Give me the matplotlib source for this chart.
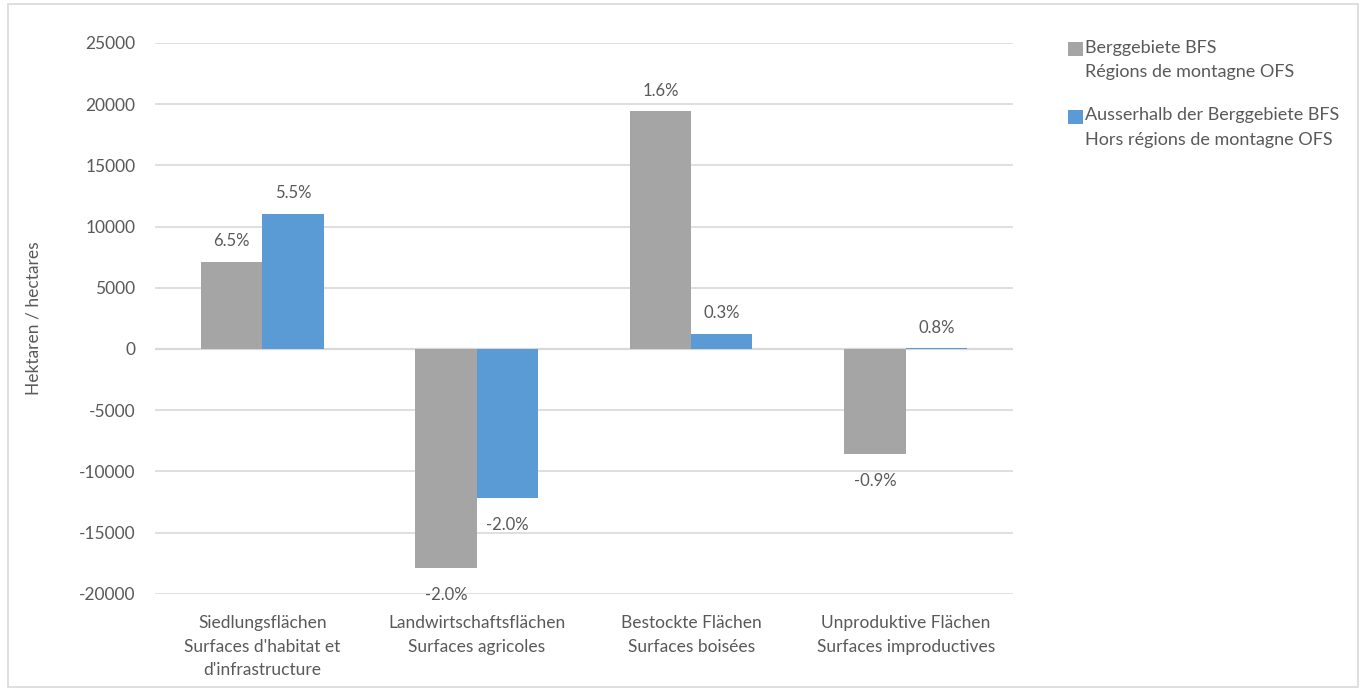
import numpy as np
import matplotlib
matplotlib.use('Agg')
import matplotlib.pyplot as plt
from matplotlib.patches import Rectangle
from matplotlib.legend_handler import HandlerPatch

# Data
categories = ['Siedlungsflächen\nSurfaces d\'habitat et\nd\'infrastructure',
              'Landwirtschaftsflächen\nSurfaces agricoles',
              'Bestockte Flächen\nSurfaces boisées',
              'Unproduktive Flächen\nSurfaces improductives']
series_names = ['Berggebiete BFS\nRégions de montagne OFS',
                'Ausserhalb der Berggebiete BFS\nHors régions de montagne OFS']
mountain = [7100, -17900, 19400, -8600]
outside = [11000, -12200, 1200, 50]
mountain_pct = ['6.5%', '-2.0%', '1.6%', '-0.9%']
outside_pct = ['5.5%', '-2.0%', '0.3%', '0.8%']
yticks = [-20000, -15000, -10000, -5000, 0, 5000, 10000, 15000, 20000, 25000]

text_col = '#595959'
grid_col = '#d9d9d9'
colors = ['#a5a5a5', '#5b9bd5']

plt.rcParams['font.family'] = ['Lato', 'DejaVu Sans']


# square legend marker sitting next to the first line of a two-line label
def top_square(legend, orig_handle, xdescent, ydescent, width, height, fontsize):
    s = 0.78 * fontsize
    return Rectangle((width - s - xdescent, height - s - ydescent), s, s)


fig = plt.figure(figsize=(13.66, 6.91), dpi=100)
ax = fig.add_axes([0.1135, 0.1405, 0.628, 0.7975])

x = np.arange(len(categories))
w = 1 / 3.5
bars = []
for i, (vals, pcts) in enumerate([(mountain, mountain_pct), (outside, outside_pct)]):
    pos = x - w / 2 + i * w
    b = ax.bar(pos, vals, width=w, color=colors[i], label=series_names[i], zorder=3)
    bars.append(b)
    for xp, v, p in zip(pos, vals, pcts):
        off = 15 if v >= 0 else -19
        ax.annotate(p, (xp, v), xytext=(0, off), textcoords='offset points',
                    ha='center', va='center', fontsize=12, color=text_col)

ax.set_xlim(-0.5, len(categories) - 0.5)
ax.set_ylim(-20000, 25000)
ax.set_yticks(yticks)
ax.set_yticklabels([str(t) for t in yticks], fontsize=12.5, color=text_col)
ax.set_xticks(x)
ax.set_xticklabels(categories, fontsize=12.5, color=text_col, linespacing=1.6)
ax.tick_params(axis='y', length=0, pad=14)
ax.tick_params(axis='x', length=0, pad=15)
ax.grid(axis='y', color=grid_col, lw=1.2, zorder=0)
ax.axhline(0, color=grid_col, lw=1.6, zorder=2)
for s in ax.spines.values():
    s.set_visible(False)
ax.set_ylabel('Hektaren / hectares', fontsize=12.5, color=text_col)
ax.yaxis.set_label_coords(-0.132, 0.5)

leg = fig.legend(handles=[b.patches[0] for b in bars], labels=series_names,
                 loc='upper left', bbox_to_anchor=(0.770, 0.966), frameon=False,
                 fontsize=13, handlelength=0.8, handleheight=2.85, handletextpad=0.15,
                 labelspacing=1.5, labelcolor=text_col,
                 handler_map={Rectangle: HandlerPatch(patch_func=top_square)})
for t in leg.get_texts():
    t.set_linespacing(1.65)

# chart area border
fig.patches.append(Rectangle((0.006, 0.006), 0.988, 0.988, transform=fig.transFigure,
                             fill=False, edgecolor=grid_col, lw=1.2))

fig.savefig('out.png', dpi=100)
